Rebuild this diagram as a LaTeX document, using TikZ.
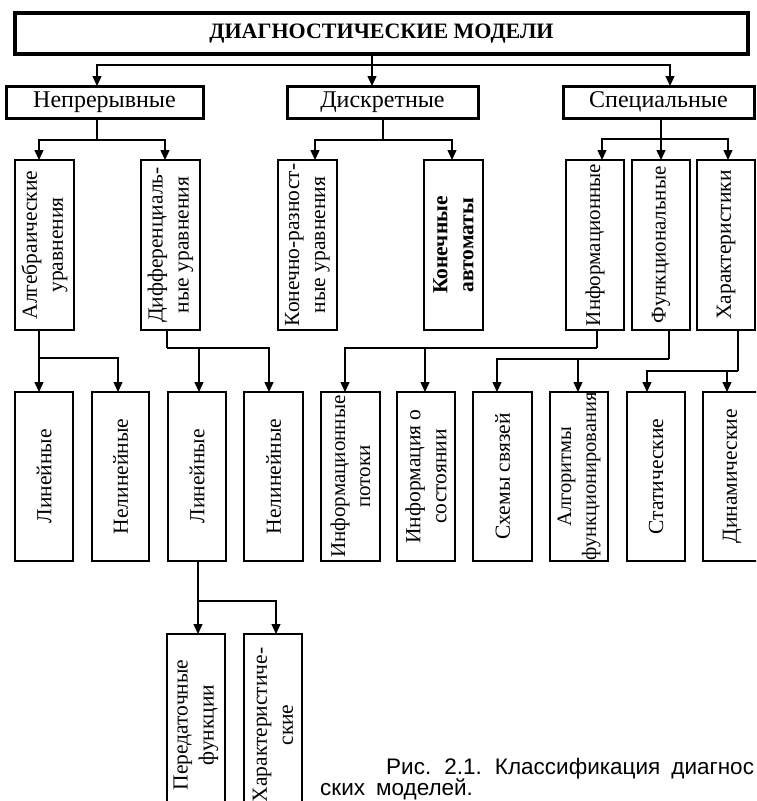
\documentclass[tikz,border=0pt]{standalone}
\usepackage{fontspec}
\setmainfont{Liberation Serif}
\newfontfamily\capfont{Liberation Sans}
\usetikzlibrary{arrows.meta}
\begin{document}
\begin{tikzpicture}[x=1pt,y=-1pt,
  box/.style={draw, inner sep=0pt, outer sep=0pt, anchor=north west},
  topbox/.style={box, line width=3.2pt, font=\fontsize{22}{26}\selectfont\bfseries},
  l1box/.style={box, line width=3pt, minimum height=32pt, font=\fontsize{24}{28}\selectfont},
  l2box/.style={box, line width=2.8pt, minimum height=170pt},
  l3box/.style={box, line width=1.9pt, minimum height=169pt},
  l4box/.style={box, line width=1.4pt, minimum height=182pt},
  vtxt/.style={rotate=90, align=center, inner sep=0pt, font=\fontsize{21.5}{26}\selectfont},
  conn/.style={line width=1.3pt},
  arr/.style={conn, -{Triangle[length=10pt,width=9pt]}},
  captxt/.style={anchor=base west, inner sep=0pt, font=\capfont\fontsize{22.5}{23}\selectfont}
]
\useasboundingbox (0,0) rectangle (756,801);
\fill[white] (0,0) rectangle (756,801);
\clip (0,0) rectangle (756,801);

% root and first level
\node[topbox, minimum width=733pt, minimum height=41pt] (top) at (15,13) {ДИАГНОСТИЧЕСКИЕ МОДЕЛИ};
\node[l1box, minimum width=197pt] (nep) at (6,86) {Непрерывные};
\node[l1box, minimum width=191pt] (disc) at (287,86) {Дискретные};
\node[l1box, minimum width=191pt] (spec) at (563,86) {Специальные};

% second level
\node[l2box, minimum width=59pt, label={[vtxt]center:{Алгебраические\\уравнения}}] (alg) at (15,160) {};
\node[l2box, minimum width=59pt, label={[vtxt]center:{Дифференциаль-\\ные уравнения}}] (diff) at (141,160) {};
\node[l2box, minimum width=59pt, label={[vtxt]center:{Конечно-разност-\\ные уравнения}}] (kon) at (278,160) {};
\node[l2box, minimum width=59pt, label={[vtxt, font=\fontsize{21.5}{26}\selectfont\bfseries]center:{Конечные\\автоматы}}] (avt) at (424,160) {};
\node[l2box, minimum width=58pt, label={[vtxt, font=\fontsize{21}{25}\selectfont]center:{Информационные}}] (inf) at (566,160) {};
\node[l2box, minimum width=58pt, label={[vtxt, font=\fontsize{21}{25}\selectfont]center:{Функциональные}}] (fun) at (632,160) {};
\node[l2box, minimum width=58pt, label={[vtxt]center:{Характеристики}}] (har) at (697,160) {};

% third level
\node[l3box, minimum width=58pt, label={[vtxt]center:{Линейные}}] (lin1) at (15,392) {};
\node[l3box, minimum width=57pt, label={[vtxt]center:{Нелинейные}}] (nel1) at (92,392) {};
\node[l3box, minimum width=58pt, label={[vtxt]center:{Линейные}}] (lin2) at (168,392) {};
\node[l3box, minimum width=59pt, label={[vtxt]center:{Нелинейные}}] (nel2) at (244,392) {};
\node[l3box, minimum width=59pt, label={[vtxt, font=\fontsize{21}{25}\selectfont]center:{Информационные\\потоки}}] (ipot) at (321,392) {};
\node[l3box, minimum width=58pt, label={[vtxt]center:{Информация о\\состоянии}}] (isost) at (397,392) {};
\node[l3box, minimum width=59pt, label={[vtxt]center:{Схемы связей}}] (shem) at (473,392) {};
\node[l3box, minimum width=58pt, label={[vtxt, font=\fontsize{20.5}{25}\selectfont]center:{Алгоритмы\\функционирования}}] (algf) at (550,392) {};
\node[l3box, minimum width=58pt, label={[vtxt]center:{Статические}}] (stat) at (627,392) {};
\node[l3box, minimum width=58pt, label={[vtxt]center:{Динамические}}] (dyn) at (703,392) {};

% fourth level
\node[l4box, minimum width=58pt, label={[vtxt]center:{Передаточные\\функции}}] (per) at (167,634) {};
\node[l4box, minimum width=58pt, label={[vtxt]center:{Характеристиче-\\ские}}] (hars) at (244,634) {};

% bus junctions
\coordinate (b0) at (372,65);
\coordinate (b1) at (97,140);
\coordinate (b2) at (383,140);
\coordinate (b3) at (661,139);
\coordinate (b4) at (39,358);
\coordinate (b5) at (167,348);
\coordinate (b6) at (597,348);
\coordinate (b7) at (669,359);
\coordinate (b8) at (738,371);
\coordinate (b9) at (198,601);

% root -> first level
\draw[arr] ([xshift=-9.5pt]top.south) -- ([xshift=-10.5pt]disc.north);
\draw[arr] (b0) -| ([xshift=-7.5pt]nep.north);
\draw[arr] (b0) -| ([xshift=11.5pt]spec.north);

% first level -> second level
\draw[conn] ([xshift=-7.5pt]nep.south) -- (b1);
\draw[arr] (b1) -| ([xshift=-5.5pt]alg.north);
\draw[arr] (b1) -| ([xshift=-5.5pt]diff.north);
\draw[conn] ([xshift=0.5pt]disc.south) -- (b2);
\draw[arr] (b2) -| ([xshift=7.5pt]kon.north);
\draw[arr] (b2) -| ([xshift=-1.5pt]avt.north);
\draw[arr] ([xshift=2.5pt]spec.south) -- (fun.north);
\draw[arr] (b3) -| ([xshift=7pt]inf.north);
\draw[arr] (b3) -| ([xshift=2pt]har.north);

% second level -> third level
\draw[arr] ([xshift=-5.5pt]alg.south) -- ([xshift=-5pt]lin1.north);
\draw[arr] (b4) -| ([xshift=-2.5pt]nel1.north);
\draw[conn] ([xshift=-3.5pt]diff.south) -- (b5);
\draw[arr] (b5) -| ([xshift=2pt]lin2.north);
\draw[arr] (b5) -| ([xshift=-4.5pt]nel2.north);
\draw[conn] ([xshift=2pt]inf.south) -- (b6);
\draw[arr] (b6) -| ([xshift=-5.5pt]ipot.north);
\draw[arr] (b6) -| ([xshift=-1pt]isost.north);
\draw[conn] ([xshift=8pt]fun.south) -- (b7);
\draw[arr] (b7) -| ([xshift=-5.5pt]shem.north);
\draw[arr] (b7) -| ([xshift=-1pt]algf.north);
\draw[conn] ([xshift=12pt]har.south) -- (b8);
\draw[arr] (b8) -| ([xshift=-9pt]stat.north);
\draw[arr] (b8) -| ([xshift=-5pt]dyn.north);

% third level -> fourth level
\draw[arr] ([xshift=1pt]lin2.south) -- ([xshift=2pt]per.north);
\draw[arr] (b9) -| ([xshift=3pt]hars.north);

% caption
\node[captxt] (cap1) at (386,774) {\spaceskip=11pt Рис. 2.1. Классификация диагнос};
\node[captxt] (cap2) at (320,795) {\spaceskip=11pt ских моделей.};
\end{tikzpicture}
\end{document}
